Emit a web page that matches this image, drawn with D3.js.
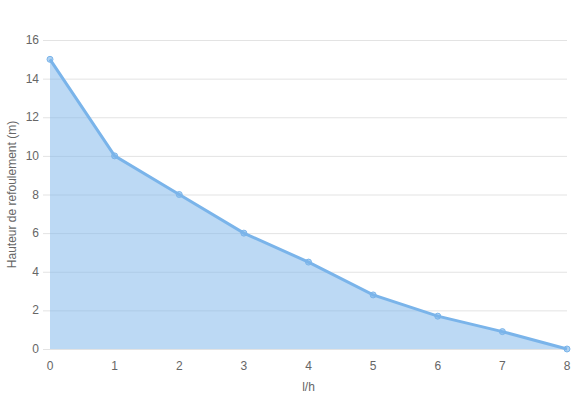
<!DOCTYPE html>
<html><head><meta charset="utf-8">
<script src="https://cdn.jsdelivr.net/npm/d3@7"></script>
<style>body{margin:0;background:#fff}svg{display:block}text{font-family:"Helvetica Neue",Helvetica,Arial,"Liberation Sans",sans-serif}</style>
</head><body><svg id="c" width="575" height="400"></svg>
<script>
const xValues = [0,1,2,3,4,5,6,7,8];
const yValues = [15,10,8,6,4.5,2.8,1.7,0.9,0];
const yTicks = [0,2,4,6,8,10,12,14,16];
const xTitle = "l/h";
const yTitle = "Hauteur de refoulement (m)";

const svg = d3.select("#c");
const mLeft = 50, mRight = 567, mTop = 40, mBottom = 349;
const x = d3.scaleLinear().domain([0,8]).range([mLeft,mRight]);
const y = d3.scaleLinear().domain([0,16]).range([mBottom,mTop]);

svg.append("g").selectAll("line").data(yTicks).join("line")
  .attr("x1", mLeft-7).attr("x2", mRight)
  .attr("y1", d=>y(d)+0.5).attr("y2", d=>y(d)+0.5)
  .attr("stroke", "#e3e3e3").attr("stroke-width",1);

svg.append("g").selectAll("text").data(yTicks).join("text")
  .attr("x", mLeft-11).attr("y", d=>y(d)+4)
  .attr("text-anchor","end").attr("font-size",12).attr("fill","#666")
  .text(d=>d);

svg.append("g").selectAll("text").data(xValues).join("text")
  .attr("x", d=>x(d)).attr("y", mBottom+21)
  .attr("text-anchor","middle").attr("font-size",12).attr("fill","#666")
  .text(d=>d);

svg.append("text").attr("x",(mLeft+mRight)/2).attr("y",391)
  .attr("text-anchor","middle").attr("font-size",12).attr("fill","#666").text(xTitle);
svg.append("text").attr("transform",`translate(16,${(mTop+mBottom)/2}) rotate(-90)`)
  .attr("text-anchor","middle").attr("font-size",12).attr("fill","#666").text(yTitle);

const data = xValues.map((v,i)=>[v,yValues[i]]);
svg.append("path").datum(data)
  .attr("d", d3.area().x(d=>x(d[0])).y0(y(0)).y1(d=>y(d[1])))
  .attr("fill","rgba(122,180,234,0.5)");
svg.append("path").datum(data)
  .attr("d", d3.line().x(d=>x(d[0])).y(d=>y(d[1])))
  .attr("fill","none").attr("stroke","#7ab4ea").attr("stroke-width",3);
svg.append("g").selectAll("circle").data(data).join("circle")
  .attr("cx",d=>x(d[0])).attr("cy",d=>y(d[1])).attr("r",3)
  .attr("fill","rgba(122,180,234,0.6)").attr("stroke","#7ab4ea").attr("stroke-width",1);
</script></body></html>
